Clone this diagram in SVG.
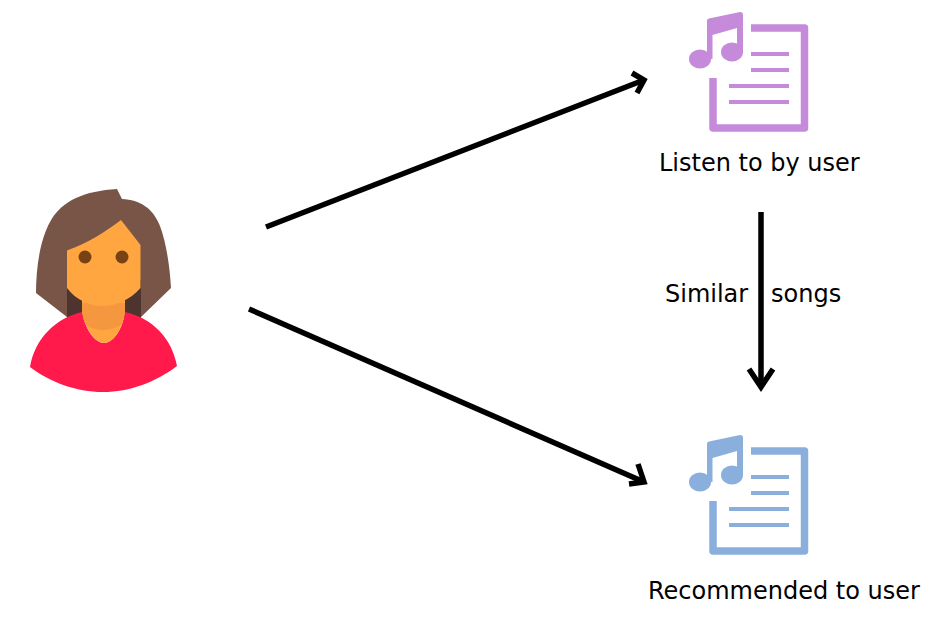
<svg xmlns="http://www.w3.org/2000/svg" width="944" height="637" viewBox="0 0 944 637">
<style>
.t{font-family:"DejaVu Sans",sans-serif;font-size:24px;fill:#000}
.c{fill:none;stroke:#000;stroke-width:5.500}
.pur{fill:#c58bda}
.pur-s{stroke:#c58bda}
.blu{fill:#8aafdc}
.blu-s{stroke:#8aafdc}
.doc{fill:none;stroke-width:7.500;stroke-linejoin:round}
.ln{fill:none;stroke-width:4}
</style>
<defs>
<g id="sheet">
<path class="doc" d="M751 28H804.500V128H713V78"/>
<path class="ln" d="M751 54H789M751 70H789M729 86H789M729 102H789"/>
</g>
<g id="note">
<path d="M707 20.500Q707 19 709 18.500L740 12Q743 12 743 15V52H737V28L712.500 35V59H707Z"/>
<ellipse cx="732" cy="52" rx="11" ry="9.500"/>
<ellipse cx="700" cy="59" rx="11" ry="9.500"/>
</g>
</defs>
<g id="connectors">
<path class="c" d="M266 227L644 80"/>
<path class="c" d="M632 73L644 80L637 93"/>
<path class="c" d="M249 309L644 482"/>
<path class="c" d="M638 464L644 482L629 484"/>
<path class="c" d="M761 212V387"/>
<path class="c" d="M749 369L761 387L773 369"/>
</g>
<g id="user">
<path fill="#795548" d="M117 189L122 199C140 200 153 208 160 226C167 245 170 270 171 288L141 317H67L36 293C36 268 40 240 50 222C62 200 85 191 117 189Z"/>
<path fill="#4e342e" d="M67 280H141V318H67Z"/>
<path fill="#ff1a4b" d="M82 312C86 332 96 343 104 343C112 343 122 332 125 312C152 318 172 338 177 366C156 382 130 392 103 392C76 392 50 382 30 367C35 338 56 318 82 312Z"/>
<path fill="#ffa640" d="M82 300H125V312C122 332 112 343 104 343C96 343 86 332 82 312Z"/>
<path fill="#f4973f" d="M82 303H125V312C124 318 122.500 322 121 325Q112 330 103 330Q94 330 86 325C84 321 83 317 82 312Z"/>
<path fill="#ffa640" d="M121 220L140.500 245V288C130 300 115 306 103 306C90 306 76 300 67 288V250.500C88 243 105 232 121 220Z"/>
<circle cx="85" cy="257" r="6.500" fill="#784212"/>
<circle cx="122" cy="257" r="6.500" fill="#784212"/>
</g>
<g id="listened">
<use href="#sheet" class="pur-s"/>
<use href="#note" class="pur"/>
<text class="t" x="659" y="171">Listen to by user</text>
</g>
<g id="similar">
<text class="t" x="665" y="302">Similar</text>
<text class="t" x="771" y="302">songs</text>
</g>
<g id="recommended">
<use href="#sheet" y="423" class="blu-s"/>
<use href="#note" y="423" class="blu"/>
<text class="t" x="648" y="599">Recommended to user</text>
</g>
</svg>
